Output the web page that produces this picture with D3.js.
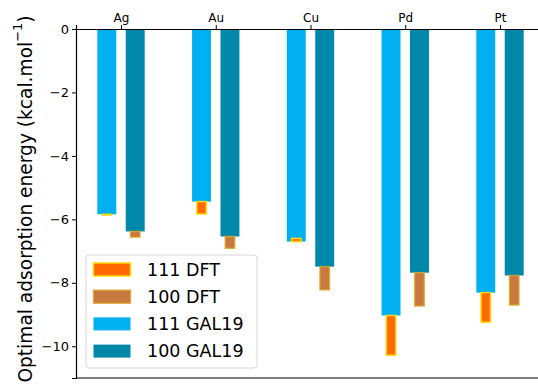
<!DOCTYPE html>
<html>
<head>
<meta charset="utf-8">
<script src="https://cdn.jsdelivr.net/npm/d3@7"></script>
<style>
  body { margin: 0; background: #fff; }
  text { font-family: "DejaVu Sans", sans-serif; }
</style>
</head>
<body>
<div id="chart"></div>
<script>
// data
var metals = ["Ag", "Au", "Cu", "Pd", "Pt"];
var gal111 = [-5.84, -5.44, -6.70, -9.03, -8.31];
var gal100 = [-6.38, -6.54, -7.49, -7.68, -7.77];
var dft111 = [-5.86, -5.83, -6.60, -10.28, -9.24];
var dft100 = [-6.56, -6.91, -8.22, -8.73, -8.70];
var yTicks = [0, -2, -4, -6, -8, -10];

// svg size
var svgWidth = 538;
var svgHeight = 389;

var margin = { top: 29, right: -7, bottom: 11, left: 76 };
var width = svgWidth - margin.left - margin.right;
var height = svgHeight - margin.top - margin.bottom;

var svg = d3.select("#chart")
  .append("svg")
  .attr("width", svgWidth)
  .attr("height", svgHeight);

var chartGroup = svg.append("g")
  .attr("transform", `translate(${margin.left}, ${margin.top})`);

// scales
var xLinearScale = d3.scaleLinear()
  .domain([-0.475, 4.475])
  .range([0, width]);

var yLinearScale = d3.scaleLinear()
  .domain([-11, 0])
  .range([height, 0]);

var unit = xLinearScale(1) - xLinearScale(0);

// GAL19 bars
function galBars(vals, off, color) {
  chartGroup.append("g").selectAll("rect")
    .data(vals)
    .enter()
    .append("rect")
    .attr("x", (d, i) => xLinearScale(i + off - 0.1))
    .attr("width", 0.2 * unit)
    .attr("y", yLinearScale(0))
    .attr("height", d => yLinearScale(d) - yLinearScale(0))
    .attr("fill", color);
}
galBars(gal111, -0.15, "#00b0f0");
galBars(gal100, 0.15, "#0088aa");

// DFT bars float from the GAL19 value to the DFT value
function dftBars(vals, base, off, fill, edge) {
  chartGroup.append("g").selectAll("rect")
    .data(vals)
    .enter()
    .append("rect")
    .attr("x", (d, i) => xLinearScale(i + off - 0.05))
    .attr("width", 0.1 * unit)
    .attr("y", (d, i) => Math.min(yLinearScale(d), yLinearScale(base[i])))
    .attr("height", (d, i) => Math.abs(yLinearScale(d) - yLinearScale(base[i])))
    .attr("fill", fill)
    .attr("stroke", edge)
    .attr("stroke-width", 1.5);
}
dftBars(dft111, gal111, -0.15, "#ff6a00", "#ffd700");
dftBars(dft100, gal100, 0.15, "#c97842", "rgba(218,165,32,0.8)");

// axes
var topAxis = d3.axisTop(xLinearScale)
  .tickValues(d3.range(metals.length))
  .tickFormat(i => metals[i])
  .tickSizeOuter(0)
  .tickSize(4);

var leftAxis = d3.axisLeft(yLinearScale)
  .tickValues(yTicks)
  .tickFormat(d => d < 0 ? "\u2212" + Math.abs(d) : d)
  .tickSizeOuter(0)
  .tickSize(4);

var gTop = chartGroup.append("g").call(topAxis);
gTop.selectAll("text")
  .attr("font-size", "12px")
  .attr("font-family", "DejaVu Sans")
  .attr("fill", "#000");

var gLeft = chartGroup.append("g").call(leftAxis);
gLeft.selectAll("text")
  .attr("font-size", "13px")
  .attr("font-family", "DejaVu Sans")
  .attr("fill", "#000")
  .attr("x", -7);

chartGroup.selectAll(".domain").attr("stroke", "#000").attr("stroke-width", 1.2);
chartGroup.selectAll(".tick line").attr("stroke", "#000").attr("stroke-width", 1);

// bottom and right spines
chartGroup.append("line")
  .attr("x1", 0).attr("x2", width)
  .attr("y1", height).attr("y2", height)
  .attr("stroke", "#000").attr("stroke-width", 1.2);
chartGroup.append("line")
  .attr("x1", width).attr("x2", width)
  .attr("y1", 0).attr("y2", height)
  .attr("stroke", "#000").attr("stroke-width", 1.2);

// y label (kept just inside the bottom edge)
svg.append("text")
  .attr("transform", `translate(25, 199) rotate(-90)`)
  .attr("text-anchor", "middle")
  .attr("dominant-baseline", "central")
  .attr("font-size", "18.6px")
  .attr("fill", "#000")
  .html("Optimal adsorption energy (kcal.mol<tspan baseline-shift='super' font-size='13px'>\u22121</tspan>)");

// legend
var legendItems = [
  { label: "111 DFT", fill: "#ff6a00", edge: "#ffd700" },
  { label: "100 DFT", fill: "#c97842", edge: "rgba(218,165,32,0.8)" },
  { label: "111 GAL19", fill: "#00b0f0", edge: "none" },
  { label: "100 GAL19", fill: "#0088aa", edge: "none" }
];

var legend = svg.append("g").attr("transform", "translate(86, 255)");
legend.append("rect")
  .attr("width", 171)
  .attr("height", 113)
  .attr("rx", 3)
  .attr("fill", "rgba(255,255,255,0.8)")
  .attr("stroke", "#d6d6d6");

var rows = legend.selectAll("g.item")
  .data(legendItems)
  .enter()
  .append("g")
  .attr("class", "item")
  .attr("transform", (d, i) => `translate(0, ${14.5 + i * 27.2})`);

rows.append("rect")
  .attr("x", 7.5)
  .attr("y", -6.5)
  .attr("width", 37)
  .attr("height", 13)
  .attr("fill", d => d.fill)
  .attr("stroke", d => d.edge)
  .attr("stroke-width", 1.5);

rows.append("text")
  .attr("x", 61)
  .attr("y", 0)
  .attr("dominant-baseline", "central")
  .attr("font-size", "17.5px")
  .attr("fill", "#000")
  .text(d => d.label);
</script>
</body>
</html>
